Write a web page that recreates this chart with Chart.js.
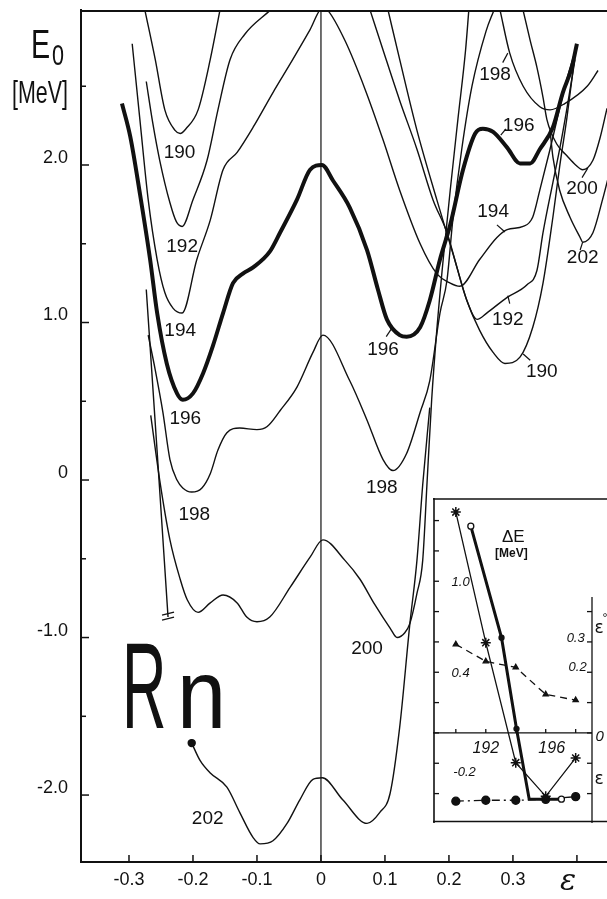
<!DOCTYPE html>
<html>
<head>
<meta charset="utf-8">
<script src="https://cdn.jsdelivr.net/npm/chart.js@4.4.0/dist/chart.umd.min.js"></script>
<style>
html, body { margin: 0; padding: 0; background: #fff; }
#wrap { position: relative; width: 607px; height: 899px; }
#main { position: absolute; left: 0; top: 0; }
#inset { position: absolute; left: 433px; top: 498px; }
</style>
</head>
<body>
<div id="wrap">
  <canvas id="main" width="607" height="899"></canvas>
  <canvas id="inset" width="174" height="325"></canvas>
</div>
<script>
const INK = '#111';

// E0 [MeV] vs deformation eps, one curve per Rn isotope. null = break in the drawn curve
const curve190 = [[-0.275,2.98],[-0.259,2.67],[-0.244,2.35],[-0.228,2.22],[-0.220,2.20],[-0.211,2.23],[-0.192,2.35],[-0.173,2.67],[-0.158,2.98],
  null,
  [0.077,2.98],[0.097,2.73],[0.123,2.41],[0.150,2.10],[0.175,1.78],[0.197,1.57],[0.2125,1.35],[0.228,1.14],[0.248,0.95],[0.269,0.81],[0.2875,0.74],
  [0.311,0.78],[0.331,0.97],[0.347,1.25],[0.3625,1.67],[0.373,1.99],[0.384,2.29],[0.397,2.70]];

const curve192 = [[-0.273,2.53],[-0.263,2.27],[-0.252,2.03],[-0.236,1.76],[-0.226,1.64],[-0.217,1.61],[-0.200,1.78],[-0.178,2.03],[-0.161,2.35],
  [-0.142,2.67],[-0.119,2.83],[-0.080,2.98],
  null,
  [0.105,2.98],[0.123,2.67],[0.150,2.22],[0.181,1.78],[0.209,1.40],[0.228,1.14],[0.244,1.02],[0.259,1.06],[0.291,1.16],[0.322,1.24],[0.3375,1.33],
  [0.347,1.57],[0.3625,1.89],[0.373,2.10],[0.384,2.35],[0.397,2.67]];

const curve194 = [[-0.295,2.77],[-0.283,2.29],[-0.270,1.78],[-0.256,1.40],[-0.244,1.19],[-0.231,1.09],[-0.217,1.06],[-0.194,1.40],[-0.173,1.65],
  [-0.153,1.97],[-0.131,2.08],[-0.106,2.24],[-0.075,2.46],[-0.044,2.67],[-0.017,2.86],[0.003,3.00],[0.011,2.98],[0.0375,2.79],[0.069,2.48],
  [0.097,2.16],[0.123,1.84],[0.155,1.50],[0.181,1.31],[0.202,1.25],[0.217,1.23],[0.248,1.40],[0.275,1.54],[0.291,1.59],[0.316,1.61],[0.331,1.67],
  [0.342,1.84],[0.358,2.10],[0.369,2.29],[0.384,2.54],[0.400,2.76]];

const curve196 = [[-0.311,2.39],[-0.298,2.18],[-0.283,1.82],[-0.267,1.40],[-0.256,1.06],[-0.241,0.74],[-0.225,0.55],[-0.216,0.51],[-0.200,0.55],
  [-0.184,0.68],[-0.169,0.85],[-0.153,1.06],[-0.1375,1.25],[-0.122,1.31],[-0.106,1.35],[-0.080,1.45],[-0.064,1.57],[-0.0375,1.78],[-0.017,1.97],
  [0.0015,2.00],[0.019,1.90],[0.045,1.73],[0.072,1.46],[0.089,1.21],[0.103,1.02],[0.123,0.92],[0.134,0.91],[0.155,0.97],[0.170,1.14],[0.186,1.40],
  [0.202,1.62],[0.222,1.97],[0.241,2.20],[0.253,2.23],[0.269,2.21],[0.291,2.11],[0.311,2.01],[0.327,2.01],[0.342,2.10],[0.3625,2.24],[0.378,2.46],
  [0.392,2.62],[0.400,2.77]];

const curve198 = [[-0.270,0.92],[-0.259,0.70],[-0.247,0.43],[-0.236,0.13],[-0.225,0.00],[-0.216,-0.05],[-0.202,-0.076],[-0.186,-0.05],[-0.173,0.04],
  [-0.161,0.19],[-0.147,0.30],[-0.127,0.33],[-0.100,0.32],[-0.084,0.34],[-0.064,0.44],[-0.0375,0.59],[-0.0125,0.81],[0.003,0.92],[0.045,0.63],
  [0.072,0.38],[0.097,0.13],[0.1125,0.06],[0.134,0.17],[0.155,0.43],[0.170,0.63],[0.186,1.06],[0.197,1.27],[0.206,1.65],[0.220,2.10],[0.236,2.50],
  [0.258,2.85],[0.270,2.98],
  null,
  [0.280,2.98],[0.295,2.71],[0.316,2.50],[0.342,2.37],[0.358,2.35],[0.381,2.39],[0.416,2.50],[0.433,2.60]];

const curve200 = [[-0.266,0.41],[-0.252,0.00],[-0.236,-0.38],[-0.220,-0.63],[-0.209,-0.76],[-0.192,-0.84],[-0.173,-0.78],[-0.153,-0.73],[-0.131,-0.78],
  [-0.116,-0.87],[-0.100,-0.90],[-0.080,-0.87],[-0.048,-0.68],[-0.017,-0.49],[0.003,-0.38],[0.0375,-0.51],[0.061,-0.63],[0.084,-0.79],[0.108,-0.94],
  [0.119,-1.00],[0.131,-0.97],[0.139,-0.91],[0.150,-0.72],[0.159,-0.51],[0.166,0.00],[0.173,0.51],[0.181,0.95],[0.191,1.40],[0.202,1.84],
  [0.214,2.29],[0.226,2.73],[0.231,2.98],
  null,
  [0.316,2.98],[0.327,2.79],[0.3375,2.62],[0.347,2.43],[0.353,2.29],[0.369,2.13],[0.384,2.06],[0.398,2.00],[0.409,1.97],[0.425,2.03],[0.436,2.17],
  [0.447,2.36]];

const curve202 = [[-0.273,1.21],[-0.256,0.18],[-0.239,-0.87],
  null,
  [-0.202,-1.67],[-0.189,-1.78],[-0.173,-1.86],[-0.147,-1.95],[-0.127,-2.11],[-0.106,-2.27],[-0.095,-2.31],[-0.075,-2.29],[-0.053,-2.18],
  [-0.033,-2.03],[-0.0125,-1.90],[0.002,-1.89],[0.034,-2.03],[0.072,-2.18],[0.092,-2.11],[0.108,-1.99],[0.123,-1.57],[0.139,-0.91],[0.150,-0.51],
  [0.159,-0.03],[0.170,0.46],
  null,
  [0.358,2.22],[0.3625,2.05],[0.373,1.84],[0.389,1.67],[0.405,1.54],[0.409,1.51],[0.425,1.57],[0.440,1.78],[0.452,1.97]];

const yTickValues = [-2, -1.5, -1, -0.5, 0, 0.5, 1, 1.5, 2, 2.5];
const xTickValues = [-0.3, -0.2, -0.1, 0, 0.1, 0.2, 0.3, 0.4];

// isotope labels [text, eps, E0] and leader strokes [eps1, E1, eps2, E2]
const curveLabels = [
  ['190', -0.221, 2.08], ['192', -0.217, 1.48], ['194', -0.220, 0.95], ['196', -0.212, 0.39], ['198', -0.198, -0.22],
  ['196', 0.097, 0.83], ['198', 0.095, -0.05], ['200', 0.072, -1.07], ['202', -0.177, -2.15],
  ['190', 0.345, 0.69], ['192', 0.292, 1.02], ['194', 0.269, 1.70], ['196', 0.309, 2.25],
  ['198', 0.272, 2.57], ['200', 0.408, 1.85], ['202', 0.409, 1.41]
];
const leaders = [
  [0.102, 0.91, 0.110, 0.96], [0.316, 0.80, 0.327, 0.76], [0.292, 1.17, 0.295, 1.12], [0.275, 1.62, 0.2875, 1.575],
  [0.281, 2.19, 0.289, 2.23], [0.284, 2.65, 0.292, 2.71], [0.408, 1.92, 0.417, 1.98], [0.405, 1.46, 0.409, 1.51]
];

// inset: Delta E [MeV] and eps of the minima vs mass number
const massNumbers = [190, 192, 194, 196, 198];
const deltaEStar = [1.456, 0.595, -0.196, -0.418, -0.165];
const thickMass = [191.0, 193.05, 194.05, 194.9, 196.0, 197.05];
const deltaEThick = [1.363, 0.628, 0.027, -0.437, -0.437, -0.437];
const epsSecond = [0.292, 0.236, 0.216, 0.127, 0.108];
const epsOblate = [-0.225, -0.222, -0.222, -0.219, -0.210];
const insetDETicks = [-0.4, -0.2, 0, 0.2, 0.4, 0.6, 0.8, 1.0, 1.2, 1.4];
const insetEpsTicks = [-0.2, -0.1, 0, 0.1, 0.2, 0.3, 0.4];

function toXY(list) {
  let lastX = 0;
  return list.map(p => {
    if (p === null) return {x: lastX, y: null};
    lastX = p[0];
    return {x: p[0], y: p[1]};
  });
}

function line(ctx, x1, y1, x2, y2) {
  ctx.beginPath(); ctx.moveTo(x1, y1); ctx.lineTo(x2, y2); ctx.stroke();
}

function scaledText(ctx, s, px, py, font, sx, align) {
  ctx.save();
  ctx.translate(px, py);
  ctx.scale(sx, 1);
  ctx.font = font;
  ctx.textAlign = align || 'left';
  ctx.textBaseline = 'alphabetic';
  ctx.fillText(s, 0, 0);
  ctx.restore();
}

function curveSet(pts, w, extra) {
  return Object.assign({
    data: toXY(pts),
    borderColor: INK,
    borderWidth: w,
    pointRadius: 0,
    fill: false,
    spanGaps: false,
    cubicInterpolationMode: 'monotone'
  }, extra || {});
}

const mainDecor = {
  id: 'mainDecor',
  beforeDatasetsDraw(chart) {
    const {ctx, chartArea: a, scales: {x, y}} = chart;
    ctx.save();
    ctx.strokeStyle = INK;
    ctx.lineWidth = 1.2;
    const x0 = x.getPixelForValue(0);
    line(ctx, x0, a.top, x0, a.bottom);
    ctx.lineWidth = 2;
    line(ctx, a.left, a.top + 1, a.right, a.top + 1);
    ctx.lineWidth = 1.5;
    yTickValues.forEach(v => {
      const py = y.getPixelForValue(v);
      line(ctx, a.left, py, a.left + (Number.isInteger(v) ? 8 : 5), py);
    });
    xTickValues.forEach(v => {
      const px = x.getPixelForValue(v);
      line(ctx, px, a.bottom, px, a.bottom - 7);
    });
    ctx.restore();
  },
  afterDatasetsDraw(chart) {
    const {ctx, scales: {x, y}} = chart;
    ctx.save();
    ctx.fillStyle = INK;
    ctx.strokeStyle = INK;
    ctx.font = '19px "Liberation Sans"';
    ctx.textAlign = 'center';
    ctx.textBaseline = 'middle';
    curveLabels.forEach(([t, ex, ey]) => ctx.fillText(t, x.getPixelForValue(ex), y.getPixelForValue(ey)));
    ctx.lineWidth = 1.2;
    leaders.forEach(([a1, b1, a2, b2]) =>
      line(ctx, x.getPixelForValue(a1), y.getPixelForValue(b1), x.getPixelForValue(a2), y.getPixelForValue(b2)));

    // break mark at the end of the left 202 branch
    const bx = x.getPixelForValue(-0.239), by = y.getPixelForValue(-0.87);
    ctx.lineWidth = 1.3;
    line(ctx, bx - 6, by - 2, bx + 6, by - 5);
    line(ctx, bx - 6, by + 3, bx + 6, by);

    // element symbol
    scaledText(ctx, 'R', 122, 728, '123px "Liberation Sans"', 0.5);
    scaledText(ctx, 'n', 177, 728, '98px "Liberation Sans"', 0.9);

    // axis titles
    scaledText(ctx, 'E', 31, 58, '41px "Liberation Sans"', 0.7);
    scaledText(ctx, '0', 52, 65, '30px "Liberation Sans"', 0.72);
    scaledText(ctx, '[MeV]', 12, 103, '32px "Liberation Sans"', 0.67);
    ctx.font = 'italic 30px "DejaVu Serif"';
    ctx.textAlign = 'center';
    ctx.textBaseline = 'middle';
    ctx.fillText('ε', 568, 882);
    ctx.restore();
  }
};

new Chart(document.getElementById('main').getContext('2d'), {
  type: 'line',
  data: {
    datasets: [
      curveSet(curve190, 1.4),
      curveSet(curve192, 1.4),
      curveSet(curve194, 1.4),
      curveSet(curve198, 1.4),
      curveSet(curve200, 1.4),
      curveSet(curve202, 1.4, {
        pointRadius: c => (c.dataIndex === 4 ? 3.5 : 0),
        pointBackgroundColor: INK,
        pointBorderColor: INK
      }),
      curveSet(curve196, 4)
    ]
  },
  options: {
    responsive: false,
    animation: false,
    devicePixelRatio: 1,
    layout: { padding: { top: 10, right: 0, left: 0, bottom: 0 } },
    plugins: { legend: { display: false }, tooltip: { enabled: false } },
    scales: {
      x: {
        type: 'linear', min: -0.375, max: 0.447,
        afterFit: s => { s.height = 37; s.paddingLeft = 0; s.paddingRight = 0; },
        border: { display: true, width: 2, color: INK },
        grid: { display: true, drawOnChartArea: false, drawTicks: false },
        ticks: {
          stepSize: 0.1, includeBounds: false, autoSkip: false, maxRotation: 0, padding: 7,
          color: INK, font: { family: 'Liberation Sans', size: 18 },
          callback: v => {
            const r = Math.round(v * 10) / 10;
            if (r > 0.35) return '';
            return r === 0 ? '0' : r.toFixed(1);
          }
        }
      },
      y: {
        min: -2.425, max: 2.984,
        afterFit: s => { s.width = 81; s.paddingTop = 0; s.paddingBottom = 0; },
        border: { display: true, width: 2, color: INK },
        grid: { display: true, drawOnChartArea: false, drawTicks: false },
        ticks: {
          stepSize: 0.5, includeBounds: false, autoSkip: false, padding: 13, labelOffset: -7,
          color: INK, font: { family: 'Liberation Sans', size: 18 },
          callback: v => {
            const r = Math.round(v * 2) / 2;
            if (!Number.isInteger(r) || r > 2.1) return '';
            return r === 0 ? '0' : r.toFixed(1);
          }
        }
      }
    }
  },
  plugins: [mainDecor]
});

const insetDecor = {
  id: 'insetDecor',
  beforeDatasetsDraw(chart) {
    const {ctx, chartArea: a, scales: {x, y, y2}, width, height} = chart;
    ctx.save();
    ctx.strokeStyle = INK;
    ctx.lineWidth = 1.6;
    line(ctx, 0, 1, width, 1);
    line(ctx, 1, 0, 1, height);
    line(ctx, 0, height - 1.5, width, height - 1.5);
    ctx.lineWidth = 1.3;
    const z = y.getPixelForValue(0);
    line(ctx, 0, z, a.right, z);
    const rx = a.right;
    line(ctx, rx, y2.getPixelForValue(0.448), rx, height);
    insetDETicks.forEach(v => { const py = y.getPixelForValue(v); line(ctx, 1, py, 6, py); });
    insetEpsTicks.forEach(v => { const py = y2.getPixelForValue(v); line(ctx, rx - 5, py, rx, py); });
    massNumbers.forEach(m => { const px = x.getPixelForValue(m); line(ctx, px, z, px, z - 4); });
    ctx.restore();
  },
  afterDatasetsDraw(chart) {
    const {ctx, scales: {x, y}} = chart;
    const at = (t, m, v, font, align) => {
      ctx.font = font;
      ctx.textAlign = align || 'center';
      ctx.fillText(t, x.getPixelForValue(m), y.getPixelForValue(v));
    };
    ctx.save();
    ctx.fillStyle = INK;
    ctx.textBaseline = 'middle';
    at('ΔE', 193.84, 1.29, '17px "Liberation Sans"');
    at('[MeV]', 193.71, 1.18, 'bold 12px "Liberation Sans"');
    at('1.0', 190.32, 0.99, 'italic 13px "Liberation Sans"');
    at('0.4', 190.32, 0.39, 'italic 13px "Liberation Sans"');
    at('-0.2', 190.58, -0.26, 'italic 13px "Liberation Sans"');
    at('0.3', 198.0, 0.62, 'italic 13px "Liberation Sans"');
    at('0.2', 198.13, 0.43, 'italic 13px "Liberation Sans"');
    at('0', 199.6, -0.025, 'italic 15px "Liberation Sans"');
    at('ε', 199.25, 0.69, '17px "DejaVu Sans"', 'left');
    at('°', 199.78, 0.76, '11px "DejaVu Sans"', 'left');
    at('ε', 199.25, -0.31, '17px "DejaVu Sans"', 'left');
    at('192', 192.0, -0.10, 'italic 16px "Liberation Sans"');
    at('196', 196.4, -0.10, 'italic 16px "Liberation Sans"');
    ctx.restore();
  }
};

new Chart(document.getElementById('inset').getContext('2d'), {
  type: 'line',
  data: {
    datasets: [
      {
        data: massNumbers.map((m, i) => ({x: m, y: deltaEStar[i]})),
        yAxisID: 'y', borderColor: INK, borderWidth: 1.3, tension: 0,
        pointStyle: 'star', pointRadius: 5, pointBorderWidth: 1.5, pointBorderColor: INK
      },
      {
        data: thickMass.map((m, i) => ({x: m, y: deltaEThick[i]})),
        yAxisID: 'y', borderColor: INK, borderWidth: 3, tension: 0,
        pointRadius: [3, 2.5, 2.5, 0, 0, 3],
        pointBackgroundColor: ['#fff', INK, INK, INK, INK, '#fff'],
        pointBorderColor: INK, pointBorderWidth: 1.3
      },
      {
        data: massNumbers.map((m, i) => ({x: m, y: epsSecond[i]})),
        yAxisID: 'y2', borderColor: INK, borderWidth: 1.3, borderDash: [7, 5], tension: 0,
        pointStyle: 'triangle', pointRadius: 3, pointBackgroundColor: INK, pointBorderColor: INK
      },
      {
        data: massNumbers.map((m, i) => ({x: m, y: epsOblate[i]})),
        yAxisID: 'y2', borderColor: INK, borderWidth: 1.3, borderDash: [8, 4, 2, 4], tension: 0,
        pointRadius: 4, pointBackgroundColor: INK, pointBorderColor: INK
      }
    ]
  },
  options: {
    responsive: false,
    animation: false,
    devicePixelRatio: 1,
    layout: { padding: { top: 0, right: 15, left: 0, bottom: 0 } },
    plugins: { legend: { display: false }, tooltip: { enabled: false } },
    scales: {
      x: { type: 'linear', display: false, min: 188.91, max: 199.09 },
      y: { display: false, min: -0.551, max: 1.506 },
      y2: { display: false, position: 'right', min: -0.2755, max: 0.753 }
    }
  },
  plugins: [insetDecor]
});
</script>
</body>
</html>
